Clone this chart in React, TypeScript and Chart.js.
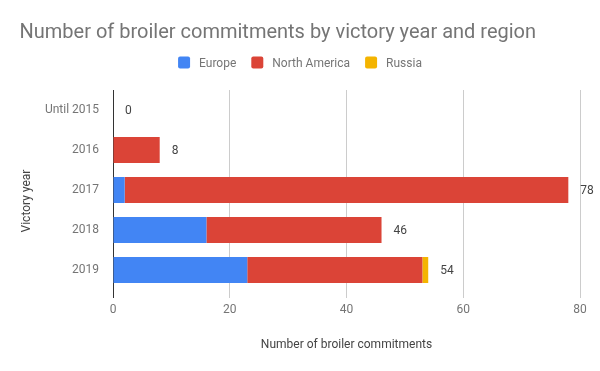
import { useEffect, useRef } from "react";
import { Chart, registerables } from "chart.js";

Chart.register(...registerables);

const categories = ["Until 2015", "2016", "2017", "2018", "2019"];
const europe = [0, 0, 2, 16, 23];
const northAmerica = [0, 8, 76, 30, 30];
const russia = [0, 0, 0, 0, 1];
const xTicks = [0, 20, 40, 60, 80];
const seriesNames = ["Europe", "North America", "Russia"];
const seriesColors = ["#4285F4", "#DB4437", "#F4B400"];
const titleText = "Number of broiler commitments by victory year and region";
const xTitle = "Number of broiler commitments";
const yTitle = "Victory year";

const FONT = "Roboto, 'Noto Sans', sans-serif";

export default function App() {
  const ref = useRef<HTMLCanvasElement | null>(null);

  useEffect(() => {
    document.body.style.margin = "0";
    const canvas = ref.current;
    if (!canvas) return;
    const totals = categories.map((_, i) => europe[i] + northAmerica[i] + russia[i]);

    const bgPlugin = {
      id: "bg",
      beforeDraw(chart: any) {
        const c = chart.ctx;
        c.save();
        c.fillStyle = "#ffffff";
        c.fillRect(0, 0, chart.width, chart.height);
        c.restore();
      },
    };

    const headerPlugin = {
      id: "header",
      afterDraw(chart: any) {
        const c = chart.ctx;
        c.save();
        c.fillStyle = "#757575";
        c.font = `20px ${FONT}`;
        c.textBaseline = "alphabetic";
        c.textAlign = "left";
        c.fillText(titleText, 19.5, 37.5);
        // legend, centred on the canvas
        c.font = `12px ${FONT}`;
        const box = 12, gapText = 9, gapItem = 15;
        const widths = seriesNames.map((n) => c.measureText(n).width);
        const total = widths.reduce((a, w) => a + box + gapText + w, 0) + gapItem * (seriesNames.length - 1);
        let x = (chart.width - total) / 2;
        seriesNames.forEach((name, i) => {
          c.fillStyle = seriesColors[i];
          const r = 2, bx = x, by = 56.5, bw = box, bh = box;
          c.beginPath();
          c.moveTo(bx + r, by);
          c.lineTo(bx + bw - r, by);
          c.quadraticCurveTo(bx + bw, by, bx + bw, by + r);
          c.lineTo(bx + bw, by + bh - r);
          c.quadraticCurveTo(bx + bw, by + bh, bx + bw - r, by + bh);
          c.lineTo(bx + r, by + bh);
          c.quadraticCurveTo(bx, by + bh, bx, by + bh - r);
          c.lineTo(bx, by + r);
          c.quadraticCurveTo(bx, by, bx + r, by);
          c.fill();
          c.fillStyle = "#757575";
          const tx = x + box + gapText;
          c.fillText(name, tx, 66.7);
          x = tx + widths[i] + gapItem;
        });
        // y-axis title
        c.fillStyle = "#444444";
        c.translate(27, 201);
        c.rotate(-Math.PI / 2);
        c.textAlign = "center";
        c.textBaseline = "middle";
        c.fillText(yTitle, 0, 0);
        c.restore();
      },
    };

    const labelPlugin = {
      id: "totals",
      afterDatasetsDraw(chart: any) {
        const c = chart.ctx;
        const xs = chart.scales.x;
        const ys = chart.scales.y;
        c.save();
        c.fillStyle = "#444444";
        c.font = `12px ${FONT}`;
        c.textAlign = "left";
        c.textBaseline = "middle";
        totals.forEach((t, i) => {
          c.fillText(String(t), xs.getPixelForValue(t) + 12, ys.getPixelForValue(i) + 1);
        });
        c.restore();
      },
    };

    const chart = new Chart(canvas, {
      type: "bar",
      data: {
        labels: categories,
        datasets: [
          { label: seriesNames[0], data: europe, backgroundColor: seriesColors[0] },
          { label: seriesNames[1], data: northAmerica, backgroundColor: seriesColors[1] },
          { label: seriesNames[2], data: russia, backgroundColor: seriesColors[2] },
        ],
      },
      options: {
        indexAxis: "y",
        responsive: false,
        animation: false,
        events: [],
        layout: { padding: { top: 90, right: 20, left: 0, bottom: 0 } },
        datasets: { bar: { barPercentage: 0.65, categoryPercentage: 1, borderWidth: 0 } },
        plugins: {
          legend: { display: false },
          title: { display: false },
          tooltip: { enabled: false },
        },
        scales: {
          x: {
            stacked: true,
            min: xTicks[0],
            max: xTicks[xTicks.length - 1],
            afterBuildTicks(scale: any) {
              scale.ticks = xTicks.map((v) => ({ value: v }));
            },
            afterFit(scale: any) {
              scale.height = 81;
            },
            grid: {
              color: (ctx: any) => (ctx.tick && ctx.tick.value === 0 ? "#333333" : "#cccccc"),
              tickLength: 8,
              drawTicks: true,
            },
            border: { display: false },
            ticks: {
              color: "#757575",
              font: { family: FONT, size: 12 },
              padding: 5,
              maxRotation: 0,
            },
            title: {
              display: true,
              text: xTitle,
              color: "#444444",
              font: { family: FONT, size: 12 },
              padding: { top: 0, bottom: 19 },
            },
          },
          y: {
            stacked: true,
            afterFit(scale: any) {
              scale.width = 113;
            },
            grid: { display: false },
            border: { display: true, color: "#333333", width: 1 },
            ticks: {
              color: "#757575",
              font: { family: FONT, size: 12 },
              padding: 6,
            },
            title: { display: false },
          },
        },
      } as any,
      plugins: [bgPlugin, labelPlugin, headerPlugin],
    });
    return () => chart.destroy();
  }, []);

  return (
    <div style={{ position: "absolute", left: 0, top: 0, width: 600, height: 371 }}>
      <canvas ref={ref} width={600} height={371} />
    </div>
  );
}
